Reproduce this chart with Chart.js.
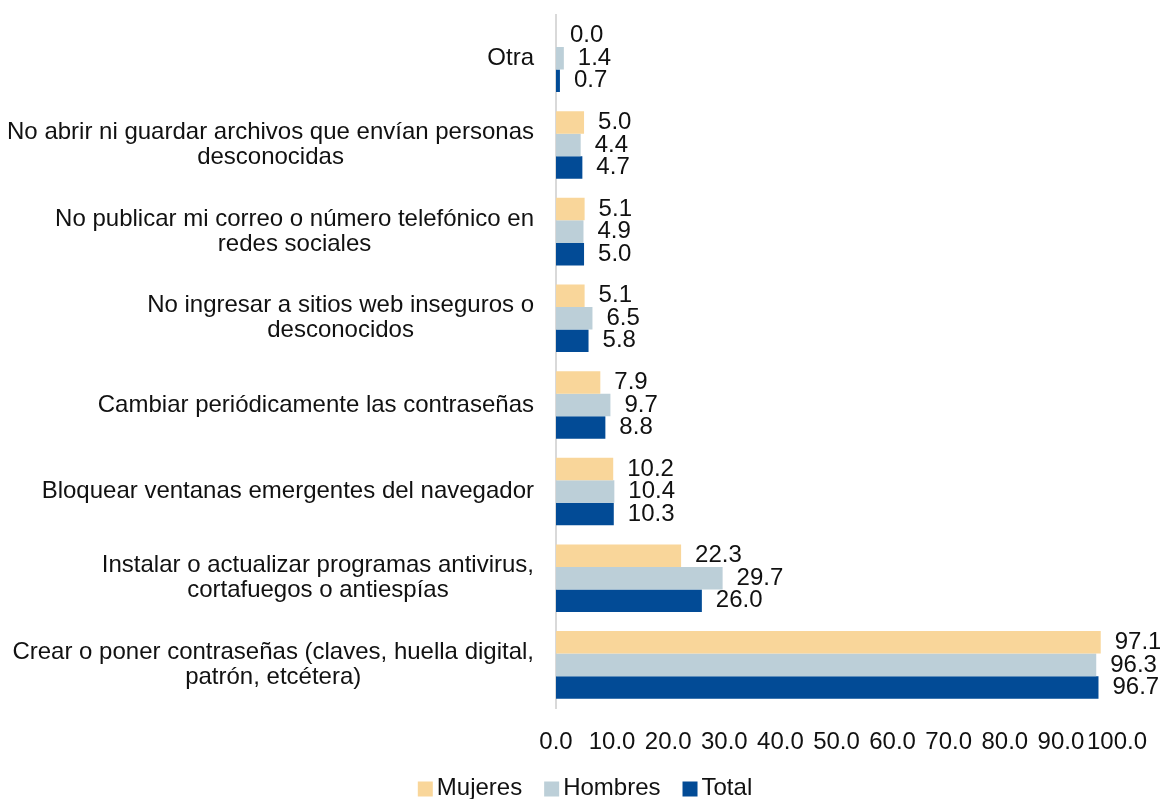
<!DOCTYPE html>
<html>
<head>
<meta charset="utf-8">
<script src="https://cdn.jsdelivr.net/npm/chart.js@4/dist/chart.umd.min.js"></script>
<style>
  html, body { margin: 0; padding: 0; background: #fff; }
  #wrap { width: 1160px; height: 799px; position: relative; }
</style>
</head>
<body>
<div id="wrap"><canvas id="chart" width="1160" height="799"></canvas></div>
<script>
(function() {
    'use strict';

    const categories = [
        ['Otra'],
        ['No abrir ni guardar archivos que envían personas', 'desconocidas'],
        ['No publicar mi correo o número telefónico en', 'redes sociales'],
        ['No ingresar a sitios web inseguros o', 'desconocidos'],
        ['Cambiar periódicamente las contraseñas'],
        ['Bloquear ventanas emergentes del navegador'],
        ['Instalar o actualizar programas antivirus,', 'cortafuegos o antiespías'],
        ['Crear o poner contraseñas (claves, huella digital,', 'patrón, etcétera)']
    ];
    const mujeres = [0.0, 5.0, 5.1, 5.1, 7.9, 10.2, 22.3, 97.1];
    const hombres = [1.4, 4.4, 4.9, 6.5, 9.7, 10.4, 29.7, 96.3];
    const total   = [0.7, 4.7, 5.0, 5.8, 8.8, 10.3, 26.0, 96.7];
    const seriesNames = ['Mujeres', 'Hombres', 'Total'];
    const seriesColors = ['#F9D69A', '#BCCFD8', '#024B96'];

    const FONT = '"Liberation Sans", Arial, sans-serif';
    const SIZE = 24;
    const TEXT = '#111';

    // y category labels: block right-aligned, lines centered inside the block
    const catLabels = {
        id: 'catLabels',
        afterDraw(chart) {
            const ctx = chart.ctx;
            const y = chart.scales.y;
            const right = 534, lh = 25;
            ctx.save();
            ctx.font = SIZE + 'px ' + FONT;
            ctx.fillStyle = TEXT;
            ctx.textAlign = 'center';
            ctx.textBaseline = 'middle';
            categories.forEach((lines, i) => {
                const cy = y.getPixelForTick(i);
                const w = Math.max(...lines.map(l => ctx.measureText(l).width));
                const cx = right - w / 2;
                lines.forEach((l, k) => {
                    ctx.fillText(l, cx, cy + (k - (lines.length - 1) / 2) * lh);
                });
            });
            ctx.restore();
        }
    };

    // value labels at end of bars
    const valueLabels = {
        id: 'valueLabels',
        afterDatasetsDraw(chart) {
            const ctx = chart.ctx;
            ctx.save();
            ctx.font = SIZE + 'px ' + FONT;
            ctx.fillStyle = TEXT;
            ctx.textAlign = 'left';
            ctx.textBaseline = 'middle';
            chart.data.datasets.forEach((ds, di) => {
                chart.getDatasetMeta(di).data.forEach((bar, i) => {
                    ctx.fillText(ds.data[i].toFixed(1), bar.x + 14, bar.y);
                });
            });
            ctx.restore();
        }
    };

    // compact legend (box right next to its text)
    const compactLegend = {
        id: 'compactLegend',
        afterDraw(chart) {
            const ctx = chart.ctx;
            const box = 15, gap = 4, itemGap = 22, cy = 788;
            ctx.save();
            ctx.font = SIZE + 'px ' + FONT;
            ctx.textBaseline = 'middle';
            ctx.textAlign = 'left';
            const items = chart.data.datasets.map(ds => ({ text: ds.label, color: ds.backgroundColor, w: ctx.measureText(ds.label).width }));
            const totalW = items.reduce((s, it) => s + box + gap + it.w, 0) + itemGap * (items.length - 1);
            let x = 585 - totalW / 2;
            items.forEach(it => {
                ctx.fillStyle = it.color;
                ctx.fillRect(x, cy - box / 2 + 1, box, box);
                ctx.fillStyle = TEXT;
                ctx.fillText(it.text, x + box + gap, cy);
                x += box + gap + it.w + itemGap;
            });
            ctx.restore();
        }
    };

    new Chart(document.getElementById('chart'), {
        type: 'bar',
        data: {
            labels: categories,
            datasets: seriesNames.map((name, i) => ({
                label: name,
                data: [mujeres, hombres, total][i],
                backgroundColor: seriesColors[i]
            }))
        },
        options: {
            indexAxis: 'y',
            responsive: false,
            animation: false,
            categoryPercentage: 0.78,
            barPercentage: 1.0,
            layout: { padding: { top: 15, right: 43, left: 0, bottom: 22 } },
            plugins: {
                tooltip: { enabled: false },
                legend: { display: false }
            },
            scales: {
                x: {
                    min: 0, max: 100,
                    grid: { display: false, drawTicks: false },
                    border: { display: false },
                    ticks: {
                        stepSize: 10,
                        padding: 20,
                        color: TEXT,
                        font: { family: FONT, size: SIZE },
                        maxRotation: 0,
                        autoSkip: false,
                        callback: v => v.toFixed(1)
                    },
                    afterFit(scale) { scale.paddingLeft = 0; scale.paddingRight = 0; }
                },
                y: {
                    grid: { display: false },
                    border: { color: '#D9D9D9', width: 2 },
                    ticks: { display: false },
                    afterFit(scale) { scale.width = 556; }
                }
            }
        },
        plugins: [catLabels, valueLabels, compactLegend]
    });
})();
</script>
</body>
</html>
